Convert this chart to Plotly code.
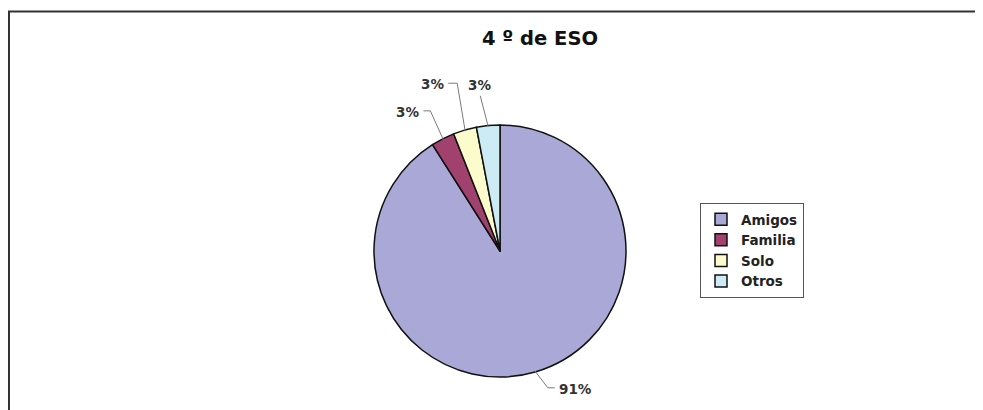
import math
import plotly.graph_objects as go

# page has an 8px body margin; figure occupies the rest of the 983x410 window
OFF = 8
W, H = 975, 402

categories = ["Amigos", "Familia", "Solo", "Otros"]
values = [91, 3, 3, 3]
colors = ["#A9A8D6", "#A0416E", "#FCFBCB", "#CDEBF4"]
title_text = "4 º de ESO"

# pie geometry (window pixels)
CX, CY, R = 500, 251, 126

def px(x):
    return (x - OFF) / W

def py(y):
    return 1 - (y - OFF) / H

fig = go.Figure()
fig.add_trace(go.Pie(
    labels=categories, values=values, sort=False, direction="clockwise", rotation=0,
    marker=dict(colors=colors, line=dict(color="#111111", width=1.5)),
    textinfo="none", hoverinfo="label+percent",
    domain=dict(x=[px(CX - R), px(CX + R)], y=[py(CY + R), py(CY - R)]),
))

# leader-line layout per slice: (elbow dx, dy), (horizontal end dx, dy), text anchor
leader = [
    ((13, 17), (20, 17), "left"),
    ((-13, -29), (-20, -29), "right"),
    ((-8, -48), (-17, -48), "right"),
    ((-8, -31), (-8, -31), "bottom"),
]

total = sum(values)
cum = 0
shapes = []
annotations = []
for v, (elb, hend, anchor) in zip(values, leader):
    mid = (cum + v / 2) / total * 2 * math.pi
    cum += v
    ex = CX + R * 0.99 * math.sin(mid)
    ey = CY - R * 0.99 * math.cos(mid)
    pts = [(ex, ey), (ex + elb[0], ey + elb[1]), (ex + hend[0], ey + hend[1])]
    for (x0, y0), (x1, y1) in zip(pts[:-1], pts[1:]):
        if (x0, y0) == (x1, y1):
            continue
        shapes.append(dict(type="line", xref="paper", yref="paper",
                           x0=px(x0), y0=py(y0), x1=px(x1), y1=py(y1),
                           line=dict(color="#7a7a7a", width=1)))
    tx, ty = pts[-1]
    txt = f"<b>{v / total * 100:.0f}%</b>"
    if anchor == "left":
        annotations.append(dict(x=px(tx + 2), y=py(ty + 1), xanchor="left", yanchor="middle", text=txt))
    elif anchor == "right":
        annotations.append(dict(x=px(tx - 2), y=py(ty + 1), xanchor="right", yanchor="middle", text=txt))
    else:
        annotations.append(dict(x=px(tx - 1), y=py(ty - 1), xanchor="center", yanchor="bottom", text=txt))

for a in annotations:
    a.update(xref="paper", yref="paper", showarrow=False,
             font=dict(family="DejaVu Sans", size=13.5, color="#333333"))

# chart frame (left and top edges)
shapes.append(dict(type="path", xref="paper", yref="paper",
                   path=f"M {px(9)} {py(H + OFF + 5)} L {px(9)} {py(11.5)} L {px(W + OFF + 5)} {py(11.5)}",
                   line=dict(color="#333333", width=2)))

fig.update_layout(
    width=W, height=H,
    margin=dict(l=0, r=0, t=0, b=0),
    paper_bgcolor="white", plot_bgcolor="white",
    title=dict(text=f"<b>{title_text}</b>", x=px(540), y=py(38), xanchor="center", yanchor="middle",
               font=dict(family="DejaVu Sans", size=19.5, color="#111111")),
    showlegend=True,
    legend=dict(x=px(700), y=py(203), xanchor="left", yanchor="top",
                bgcolor="white", bordercolor="#555555", borderwidth=1,
                font=dict(family="DejaVu Sans", size=13.5, color="#222222", weight="bold"),
                itemwidth=30),
    shapes=shapes,
    annotations=annotations,
)

fig.write_html("out.html")
